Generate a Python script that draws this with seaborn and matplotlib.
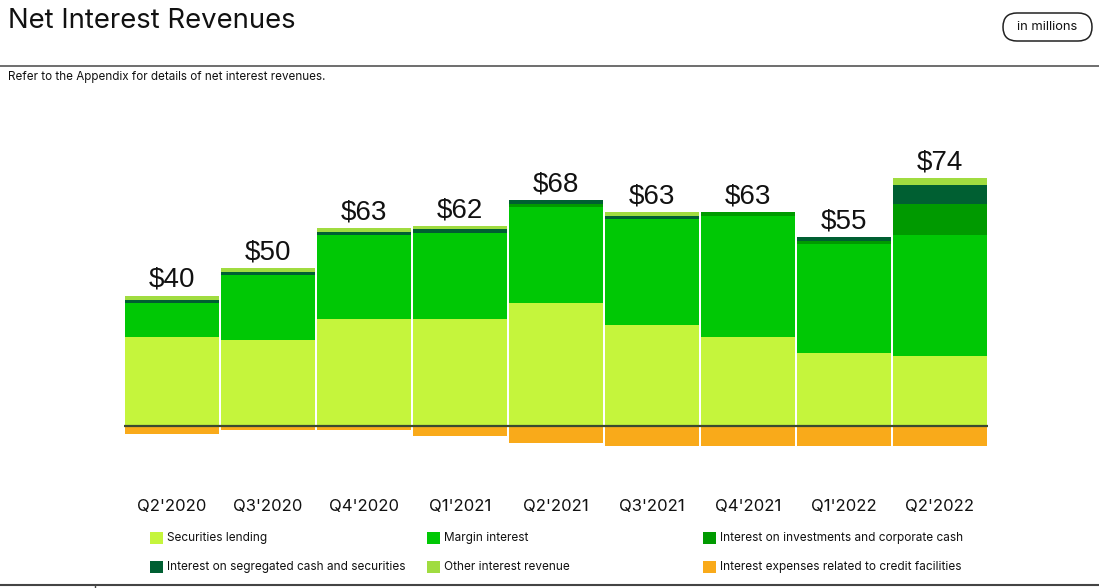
import numpy as np
import pandas as pd
import seaborn as sns
import matplotlib.pyplot as plt
from matplotlib.patches import Rectangle, FancyBboxPatch
from matplotlib.lines import Line2D

# data, in millions
quarters = ["Q2'2020", "Q3'2020", "Q4'2020", "Q1'2021", "Q2'2021",
            "Q3'2021", "Q4'2021", "Q1'2022", "Q2'2022"]
securities_lending = [29.0, 28.0, 34.9, 34.9, 40.1, 33.0, 29.0, 23.8, 22.8]
margin_interest = [11.1, 21.2, 27.4, 28.0, 31.3, 34.4, 39.4, 35.5, 39.4]
investments_cash = [0.0, 0.0, 0.0, 0.0, 1.1, 0.0, 1.3, 1.1, 10.1]
segregated_cash = [1.0, 1.0, 1.0, 1.3, 1.2, 1.0, 0.0, 1.2, 6.2]
other_interest = [1.4, 1.3, 1.3, 1.0, 0.0, 1.3, 0.0, 0.0, 2.3]
credit_expenses = [2.6, 1.3, 1.3, 3.3, 5.5, 6.4, 6.4, 6.4, 6.4]
net_totals = [40, 50, 63, 62, 68, 63, 63, 55, 74]

series_names = ["Securities lending", "Margin interest",
                "Interest on investments and corporate cash",
                "Interest on segregated cash and securities",
                "Other interest revenue",
                "Interest expenses related to credit facilities"]
colors = ["#c5f53c", "#00c805", "#009a00", "#005f32", "#a0dc40", "#f9aa1a"]

sns.set_theme(style="white")
plt.rcParams['font.family'] = ['Inter', 'DejaVu Sans']

fig = plt.figure(figsize=(10.99, 5.88), dpi=100)
H = 588.0
ax = fig.add_axes([124 / 1099, 1 - 460 / H, 864 / 1099, 350 / H])

positives = [securities_lending, margin_interest, investments_cash,
             segregated_cash, other_interest]
bottom = np.zeros(len(quarters))
for vals, col in zip(positives, colors[:5]):
    sns.barplot(x=quarters, y=vals, bottom=bottom, color=col, width=0.985,
                linewidth=0, saturation=1, ax=ax)
    bottom = bottom + np.array(vals)
sns.barplot(x=quarters, y=[-v for v in credit_expenses], color=colors[5],
            width=0.985, linewidth=0, saturation=1, ax=ax)

for i, (top, net) in enumerate(zip(bottom, net_totals)):
    ax.text(i, top + 0.9, f"${net}", ha="center", va="bottom", fontsize=20,
            family=['Liberation Sans', 'DejaVu Sans'], color="#111111")

ax.axhline(0, color="#3b4a30", lw=1.6)
ax.set_xlim(-0.5, 8.5)
ax.set_ylim(-11, 103)
ax.set_yticks([])
ax.set_xlabel("")
ax.set_ylabel("")
ax.tick_params(axis="x", length=0, pad=28, labelsize=12, labelcolor="#111111")
sns.despine(ax=ax, left=True, bottom=True)

# header
fig.text(8 / 1099, 1 - 21 / H, "Net Interest Revenues", fontsize=19.8,
         va="center", ha="left", color="#111111")
fig.add_artist(Line2D([0, 1], [1 - 66 / H, 1 - 66 / H], color="#555555", lw=1.2))
fig.text(8 / 1099, 1 - 77 / H, "Refer to the Appendix for details of net interest revenues.",
         fontsize=8.4, va="center", ha="left", color="#111111")
# "in millions" pill, drawn in inches so the ends stay round
pill = FancyBboxPatch((10.03, 5.47), 0.89, 0.28,
                      boxstyle="round,pad=0,rounding_size=0.14",
                      transform=fig.dpi_scale_trans, facecolor="white",
                      edgecolor="#222222", lw=1.1)
fig.add_artist(pill)
fig.text(1047.5 / 1099, 1 - 27 / H, "in millions", fontsize=9.3, ha="center",
         va="center", color="#111111")

# legend
legend_cols = [150, 427, 703]
legend_rows = [538, 567]
for k, name in enumerate(series_names):
    cx = legend_cols[k % 3]
    cy = legend_rows[k // 3]
    fig.add_artist(Rectangle((cx / 1099, 1 - (cy + 6) / H), 13 / 1099, 12 / H,
                             transform=fig.transFigure, facecolor=colors[k],
                             edgecolor="none"))
    fig.text((cx + 17) / 1099, 1 - cy / H, name, fontsize=8.5,
             va="center", ha="left", color="#111111")

fig.add_artist(Line2D([0, 1], [1 - 585 / H, 1 - 585 / H], color="#444444", lw=1.5))
fig.add_artist(Line2D([95 / 1099, 95 / 1099], [0, 1 - 585 / H], color="#444444", lw=1))

fig.savefig("out.png", dpi=100)
